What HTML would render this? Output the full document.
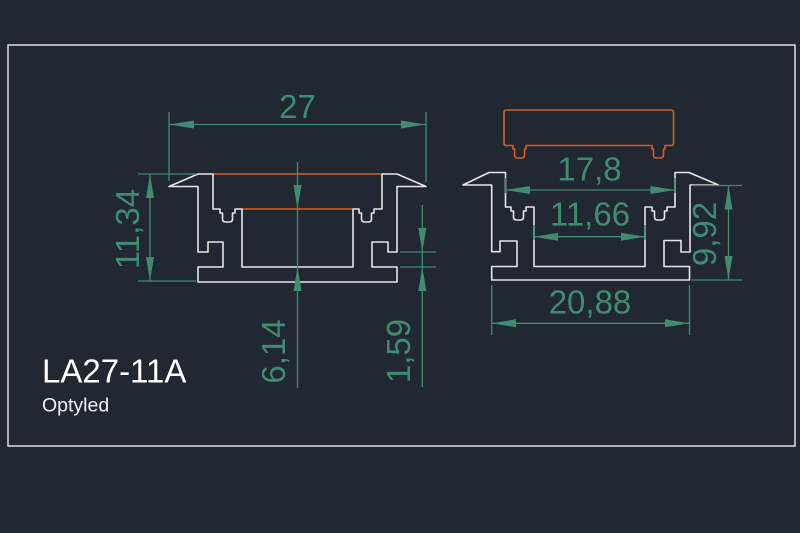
<!DOCTYPE html>
<html>
<head>
<meta charset="utf-8">
<style>
  html,body{margin:0;padding:0;background:#222831;}
  svg{display:block;}
  .g{stroke:#3f8c70;stroke-width:1.3;fill:none;}
  .ga{fill:#3f8c70;stroke:none;}
  .w{stroke:#e6e6e6;stroke-width:1.6;fill:none;stroke-linejoin:round;}
  .o{stroke:#e05a1e;stroke-width:1.6;fill:none;stroke-linejoin:round;}
  .t{font-family:"Liberation Sans",Arial,sans-serif;font-size:33px;fill:#3f8c70;}
</style>
</head>
<body>
<svg width="800" height="533" viewBox="0 0 800 533" xmlns="http://www.w3.org/2000/svg">
  <rect x="0" y="0" width="800" height="533" fill="#222831"/>
  <!-- frame -->
  <rect x="8" y="45" width="787" height="401" fill="none" stroke="#e0e0e0" stroke-width="1.5"/>

  <!-- ===== LEFT PROFILE ===== -->
  <line class="o" x1="213" y1="174" x2="382" y2="174"/>
  <line class="o" x1="242" y1="209" x2="353" y2="209"/>
  <path class="w" d="M169,186.5 L198,174 H213 V209 H220 V213 H222.5 V219 Q222.5,222 225.5,222 H229.5 Q232.5,222 232.5,219 V213 H235 V209 H242 V267 H353 V209 H359 V213 H361.5 V219 Q361.5,222 364.5,222 H368.5 Q371.5,222 371.5,219 V213 H374 V209 H382 V174 H397 L426,186.5 H397 V252 H388 V242 H372 V267 H397 V282 H198 V267 H223 V242 H208 V252 H198 V186.5 Z"/>

  <!-- dim 27 -->
  <line class="g" x1="169" y1="112" x2="169" y2="181"/>
  <line class="g" x1="426" y1="112" x2="426" y2="182"/>
  <line class="g" x1="169" y1="124.5" x2="426" y2="124.5"/>
  <polygon class="ga" points="169,124.5 194,120.5 194,128.5"/>
  <polygon class="ga" points="426,124.5 401,120.5 401,128.5"/>
  <text class="t" x="297.5" y="118" text-anchor="middle">27</text>

  <!-- dim 11,34 -->
  <line class="g" x1="138" y1="174" x2="197" y2="174"/>
  <line class="g" x1="138" y1="281" x2="196" y2="281"/>
  <line class="g" x1="150" y1="174" x2="150" y2="281"/>
  <polygon class="ga" points="150,174 146,198 154,198"/>
  <polygon class="ga" points="150,281 146,257 154,257"/>
  <text class="t" text-anchor="middle" transform="translate(139,229) rotate(-90)">11,34</text>

  <!-- dim 6,14 -->
  <line class="g" x1="297.5" y1="162" x2="297.5" y2="388"/>
  <polygon class="ga" points="297.5,209 293.5,185 301.5,185"/>
  <polygon class="ga" points="297.5,267 293.5,291 301.5,291"/>
  <text class="t" text-anchor="middle" transform="translate(285,351.5) rotate(-90)">6,14</text>

  <!-- dim 1,59 -->
  <line class="g" x1="400" y1="252" x2="436" y2="252"/>
  <line class="g" x1="400" y1="267" x2="436" y2="267"/>
  <line class="g" x1="422.3" y1="205" x2="422.3" y2="387"/>
  <polygon class="ga" points="422.3,252 418.3,228 426.3,228"/>
  <polygon class="ga" points="422.3,267 418.3,291 426.3,291"/>
  <text class="t" text-anchor="middle" transform="translate(410,351) rotate(-90)">1,59</text>

  <!-- ===== RIGHT PROFILE ===== -->
  <path class="o" d="M506.5,110 H671 Q673.5,110 673.5,112.5 V143 Q673.5,145.5 671,145.5 H665 V149 H663.5 V155 Q663.5,158 660.5,158 H656.5 Q653.5,158 653.5,155 V149 H652 V145.5 H526 V149 H524.5 V155 Q524.5,158 521.5,158 H517.5 Q514.5,158 514.5,155 V149 H513 V145.5 H506.5 Q504,145.5 504,143 V112.5 Q504,110 506.5,110 Z"/>
  <path class="w" d="M463,185 L489,172.5 H505.5 V207 H511 V211 H513.5 V217 Q513.5,220 516.5,220 H520.5 Q523.5,220 523.5,217 V211 H526 V207 H534 V266.5 H645 V207 H652 V211 H654.5 V217 Q654.5,220 657.5,220 H661.5 Q664.5,220 664.5,217 V211 H667 V207 H675 V172.5 H689 L718.5,185 H690 V252 H681 V240.5 H664 V266.5 H689.5 V280 H491.7 V266.5 H517 V241 H500 V251.7 H491.7 V185 Z"/>

  <!-- dim 17,8 -->
  <line class="g" x1="505.5" y1="178" x2="505.5" y2="193"/>
  <line class="g" x1="675" y1="178" x2="675" y2="193"/>
  <line class="g" x1="505.5" y1="190" x2="675" y2="190"/>
  <polygon class="ga" points="505.5,190 530,186 530,194"/>
  <polygon class="ga" points="675,190 650.5,186 650.5,194"/>
  <text class="t" x="589.5" y="180.5" text-anchor="middle">17,8</text>

  <!-- dim 11,66 -->
  <line class="g" x1="534" y1="225" x2="534" y2="240"/>
  <line class="g" x1="645" y1="225" x2="645" y2="240"/>
  <line class="g" x1="534" y1="236.7" x2="645" y2="236.7"/>
  <polygon class="ga" points="534,236.7 558,232.7 558,240.7"/>
  <polygon class="ga" points="645,236.7 621,232.7 621,240.7"/>
  <text class="t" x="590" y="225.5" text-anchor="middle">11,66</text>

  <!-- dim 9,92 -->
  <line class="g" x1="692" y1="185.5" x2="742" y2="185.5"/>
  <line class="g" x1="691" y1="280" x2="742" y2="280"/>
  <line class="g" x1="728.5" y1="185.5" x2="728.5" y2="280"/>
  <polygon class="ga" points="728.5,185.5 724.5,209.5 732.5,209.5"/>
  <polygon class="ga" points="728.5,280 724.5,256 732.5,256"/>
  <text class="t" text-anchor="middle" transform="translate(716,234) rotate(-90)">9,92</text>

  <!-- dim 20,88 -->
  <line class="g" x1="491.7" y1="285" x2="491.7" y2="335"/>
  <line class="g" x1="689.5" y1="285" x2="689.5" y2="335"/>
  <line class="g" x1="491.7" y1="323.3" x2="689.5" y2="323.3"/>
  <polygon class="ga" points="491.7,323.3 516,319.3 516,327.3"/>
  <polygon class="ga" points="689.5,323.3 665,319.3 665,327.3"/>
  <text class="t" x="590" y="313.5" text-anchor="middle">20,88</text>

  <!-- title -->
  <text x="42" y="382.5" font-family="Liberation Sans, Arial, sans-serif" font-size="33" fill="#ffffff">LA27-11A</text>
  <text x="42" y="411.5" font-family="Liberation Sans, Arial, sans-serif" font-size="19.5" fill="#f0f0f0">Optyled</text>
</svg>
</body>
</html>
